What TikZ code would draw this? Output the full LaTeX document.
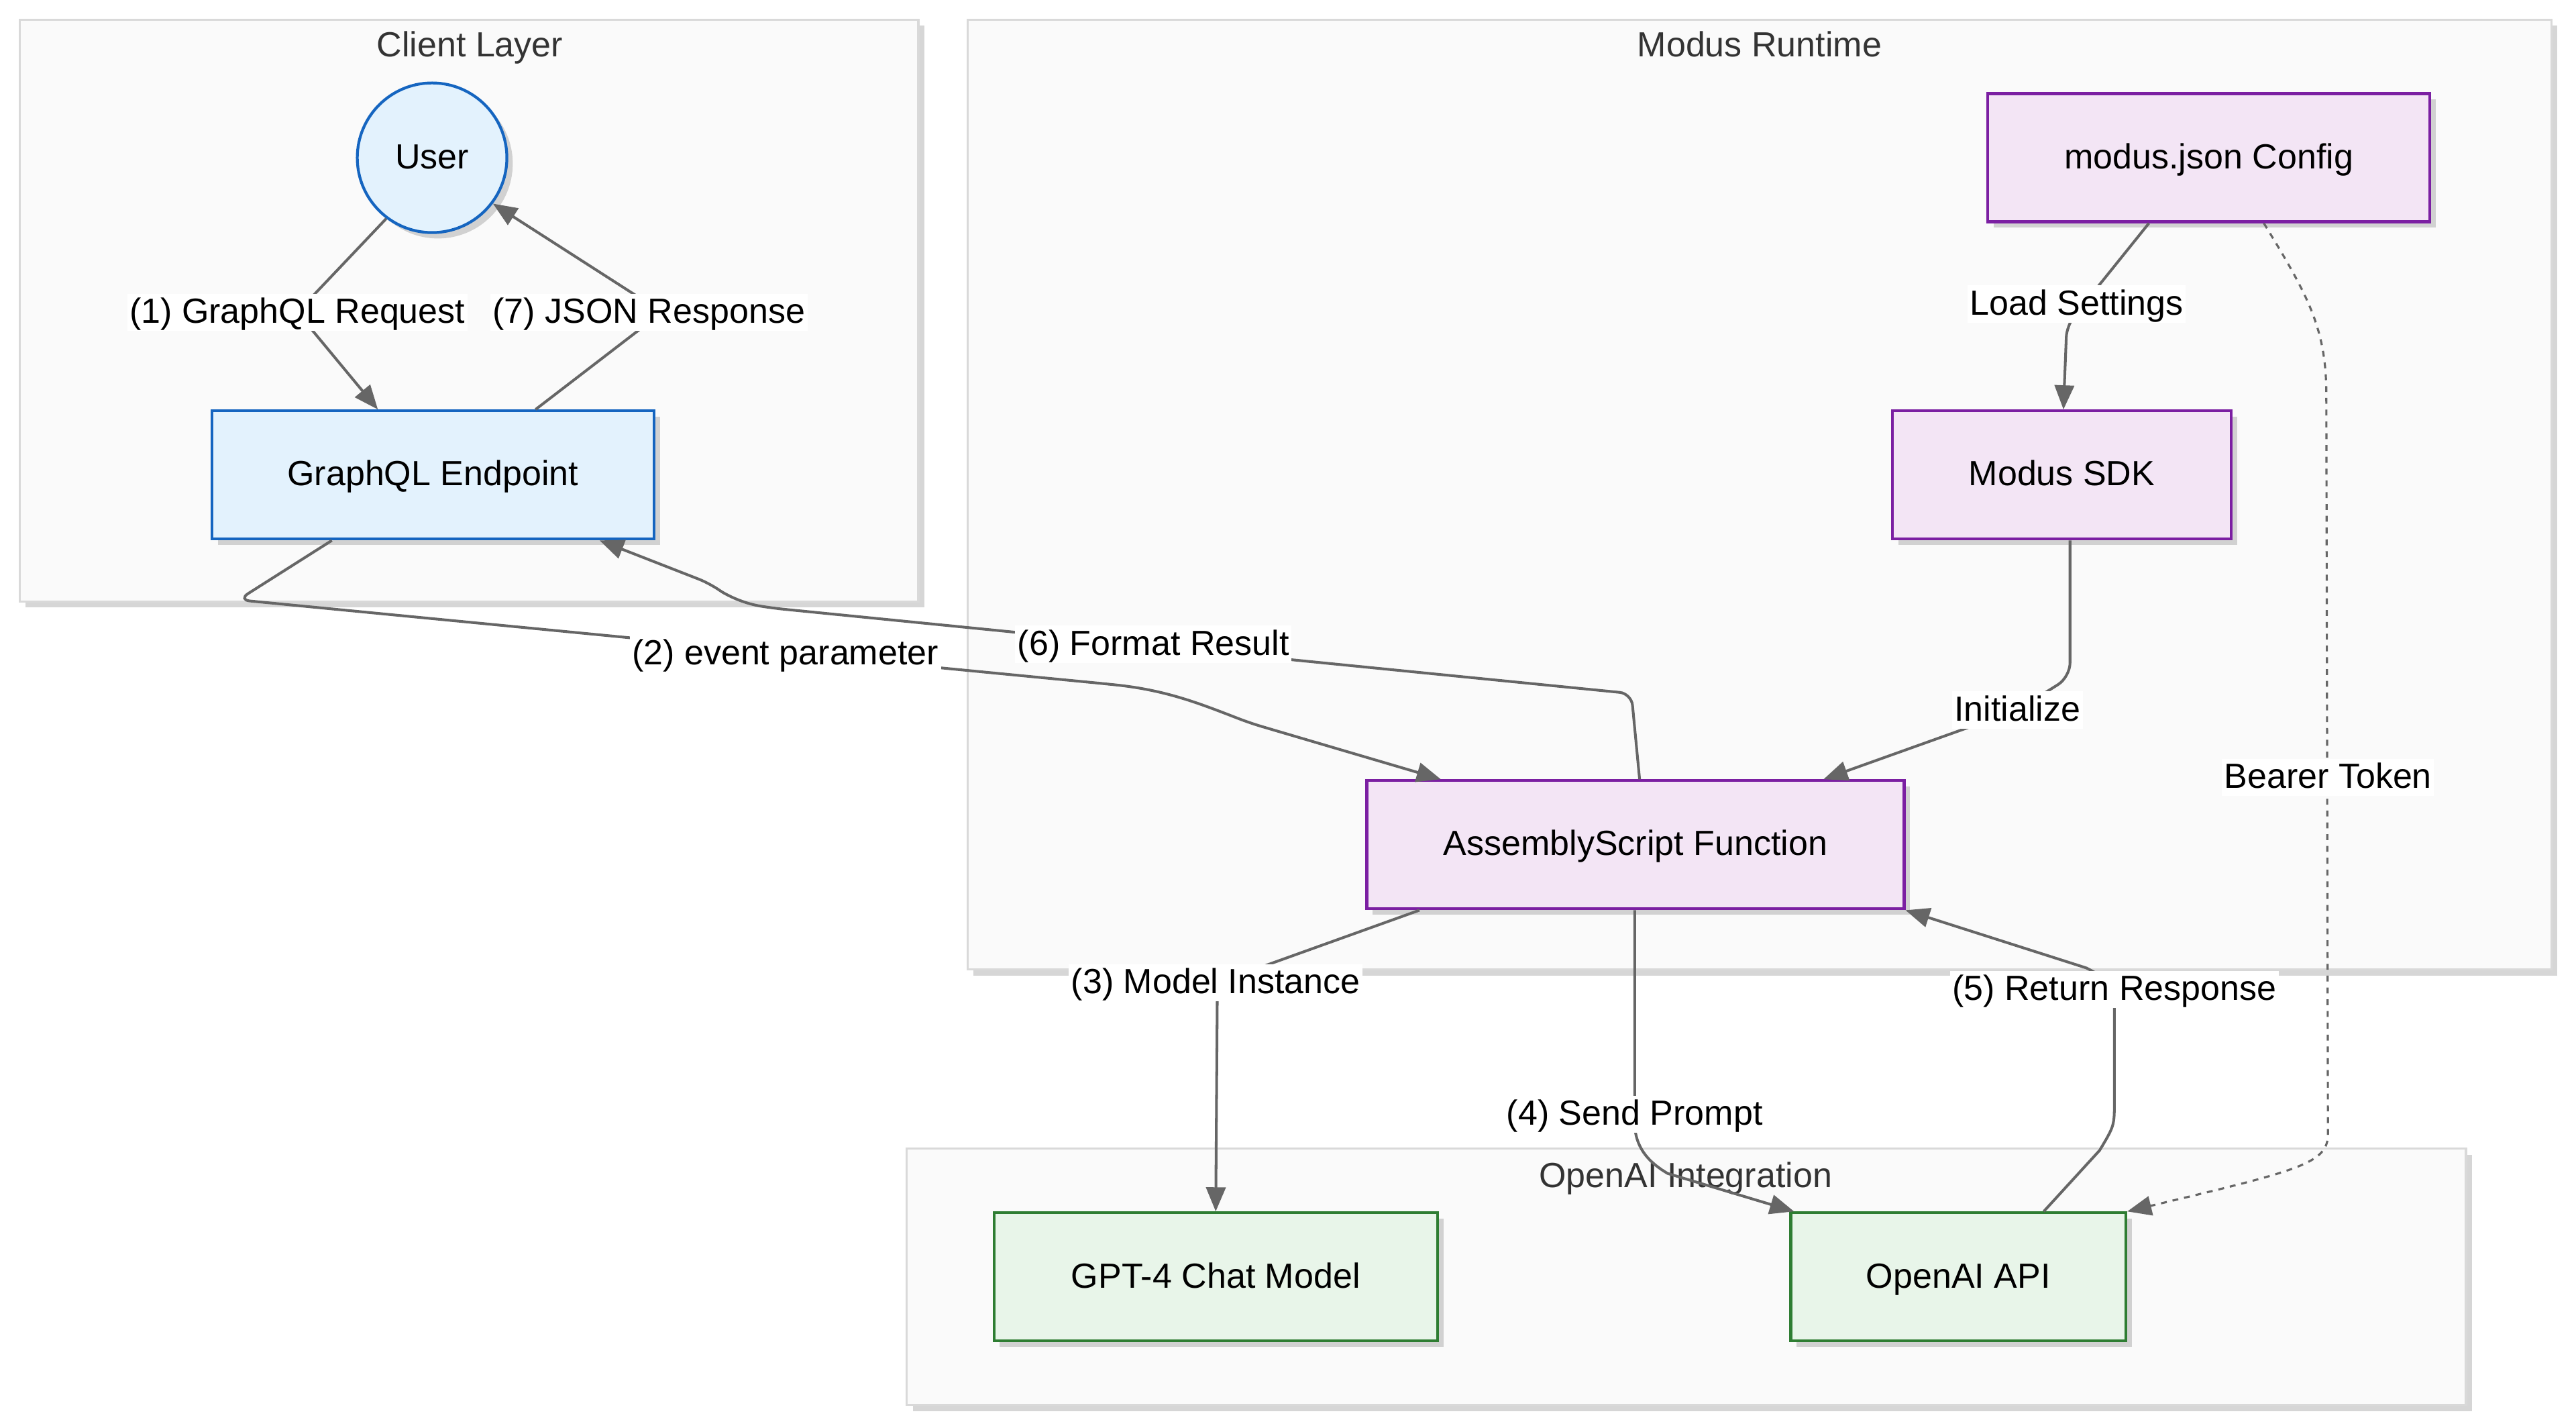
\documentclass[tikz,border=0pt]{standalone}
\usepackage{fontspec}
\setmainfont{Liberation Sans}
\usetikzlibrary{arrows.meta,shadows,calc}
\definecolor{clfill}{HTML}{FAFAFA}
\definecolor{cldraw}{HTML}{D9D9D9}
\definecolor{bluefill}{HTML}{E3F2FD}
\definecolor{bluedraw}{HTML}{1565C0}
\definecolor{purpfill}{HTML}{F3E5F5}
\definecolor{purpdraw}{HTML}{7B1FA2}
\definecolor{greenfill}{HTML}{E8F5E9}
\definecolor{greendraw}{HTML}{2E7D32}
\definecolor{edgecol}{HTML}{666666}
\definecolor{titlecol}{HTML}{333333}
\tikzset{
  every node/.style={text height=1.05em,text depth=0.13em},
  cluster/.style={fill=clfill,draw=cldraw,line width=0.9pt,
    drop shadow={shadow xshift=2.5pt,shadow yshift=-2.5pt,opacity=0.16,fill=black}},
  ctitle/.style={text=titlecol,inner sep=0pt},
  boxnode/.style={rectangle,line width=1.2pt,minimum height=1.91cm,inner sep=0pt,
    drop shadow={shadow xshift=2.5pt,shadow yshift=-2.5pt,opacity=0.16,fill=black}},
  bluebox/.style={boxnode,fill=bluefill,draw=bluedraw},
  purpbox/.style={boxnode,fill=purpfill,draw=purpdraw},
  greenbox/.style={boxnode,fill=greenfill,draw=greendraw},
  edge/.style={draw=edgecol,line width=1.15pt},
  arr/.style={-{Triangle[length=0.36cm,width=0.29cm]}},
  elabel/.style={fill=white,inner xsep=1pt,inner ysep=2pt,text=black}
}
\begin{document}
\begin{tikzpicture}[x={(0.02449cm,0)},y={(0,-0.02449cm)},font=\fontsize{14.8}{17.8}\selectfont]
\useasboundingbox (0,0) rectangle (1568,867.7);
\fill[white] (0,0) rectangle (1568,867.7);

% clusters
\draw[cluster] (12,12) rectangle (559,366);
\node[ctitle] (tclient) at (286,28) {Client Layer};
\draw[cluster] (589,12) rectangle (1553,590);
\node[ctitle] (tmodus) at (1071,28) {Modus Runtime};
\draw[cluster] (552,699) rectangle (1501,855);
\node[ctitle] (topenai) at (1026,716) {OpenAI Integration};

% nodes
\node[circle,line width=1.2pt,fill=bluefill,draw=bluedraw,minimum size=2.23cm,inner sep=0pt,
  drop shadow={shadow xshift=2.5pt,shadow yshift=-2.5pt,opacity=0.16,fill=black}] (user) at (263,96) {User};
\node[bluebox,minimum width=6.588cm] (ep) at (263.5,289) {GraphQL Endpoint};
\node[purpbox,minimum width=6.588cm] (cfg) at (1344.5,96) {modus.json Config};
\node[purpbox,minimum width=5.045cm] (sdk) at (1255,289) {Modus SDK};
\node[purpbox,minimum width=8.008cm] (as) at (995.5,514) {AssemblyScript Function};
\node[greenbox,minimum width=6.612cm] (gpt) at (740,777) {GPT-4 Chat Model};
\node[greenbox,minimum width=4.996cm] (oai) at (1192,777) {OpenAI API};

% edges
\draw[edge,arr,rounded corners=4pt] (user.-127) -- (181,190) -- (ep.north -| 230,0);
\draw[edge,arr,rounded corners=4pt] (ep.north -| 326,0) -- (403,190) -- (user.-37);
\draw[edge,arr,rounded corners=5pt] (ep.south -| 202,0) -- (145,365) -- (672,416)
  .. controls (710,420) and (730,428) .. (761,440) -- (as.north -| 877,0);
\draw[edge,arr,rounded corners=5pt] (as.north -| 998,0) -- (993,422) -- (470,370)
  .. controls (452,367) and (442,362) .. (432,355) -- (ep.south -| 365,0);
\draw[edge,arr,rounded corners=5pt] (cfg.south -| 1308,0) -- (1258,198) -- (sdk.north -| 1256,0);
\draw[edge,arr,rounded corners=6pt] (sdk.south -| 1260,0) -- (1260,412) -- (1228,432) -- (as.north -| 1110,0);
\draw[edge,arr,dash pattern=on 2.5pt off 2.5pt,line width=0.9pt] (cfg.south -| 1378,0)
  .. controls (1405,180) and (1416,200) .. (1416,240) -- (1417,690)
  .. controls (1417,708) and (1400,712) .. (oai.north east);
\draw[edge,arr,rounded corners=6pt] (as.south -| 864,0) -- (741,598) -- (gpt.north -| 740,0);
\draw[edge,arr] (as.south -| 995,0) -- (995,685) .. controls (996,700) and (1005,708) .. (1015,714) -- (oai.north -| 1092,0);
\draw[edge,arr] (oai.north -| 1244,0) -- (1278,700) .. controls (1287,685) .. (1287,670) -- (1287,612)
  .. controls (1287,598) .. (1270,589) -- (as.south east);

% edge labels
\node[elabel] (l1) at (181,190) {(1) GraphQL Request};
\node[elabel] (l7) at (395,190) {(7) JSON Response};
\node[elabel] (l2) at (478,398) {(2) event parameter};
\node[elabel] (l6) at (702,392) {(6) Format Result};
\node[elabel] (lload) at (1264,185) {Load Settings};
\node[elabel] (linit) at (1228,432) {Initialize};
\node[elabel] (lbear) at (1417,473) {Bearer Token};
\node[elabel] (l3) at (740,598) {(3) Model Instance};
\node[elabel] (l4) at (995,678) {(4) Send Prompt};
\node[elabel] (l5) at (1287,602) {(5) Return Response};
\end{tikzpicture}
\end{document}
